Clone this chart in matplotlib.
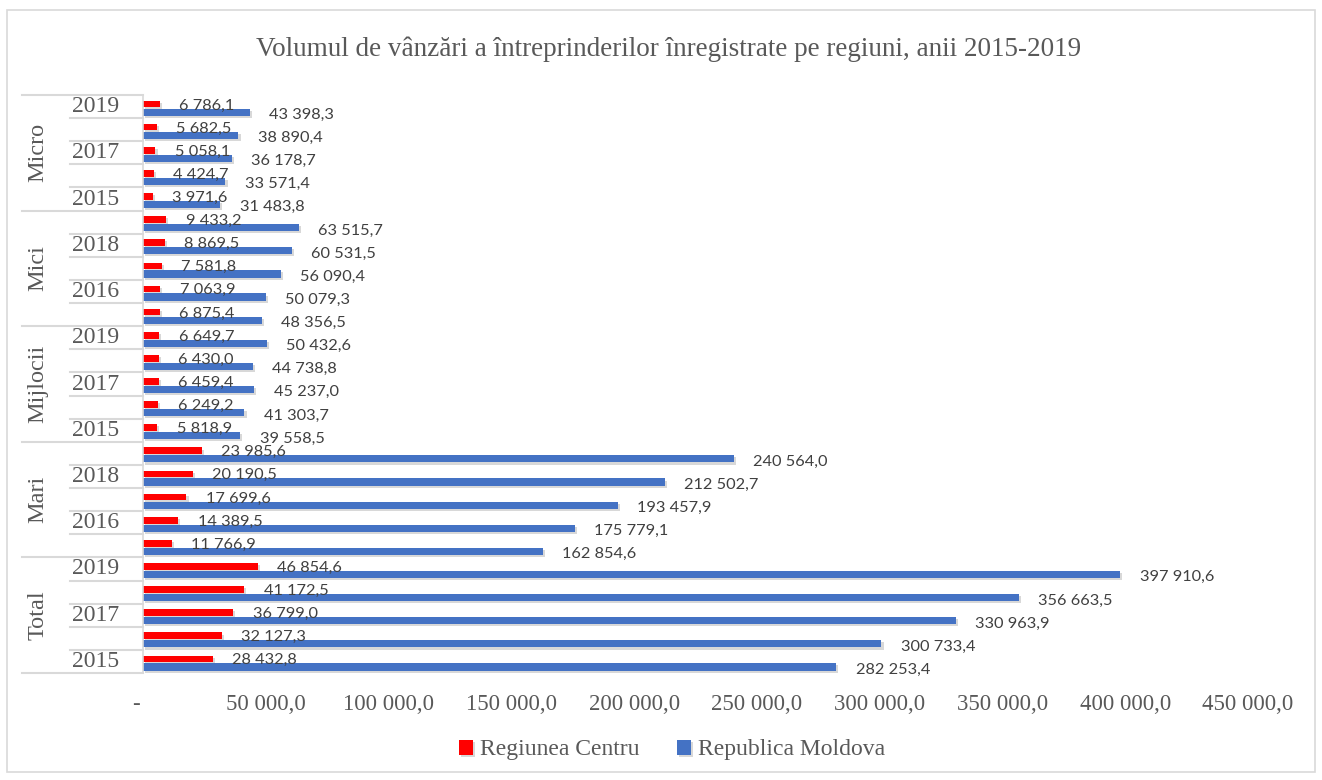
import matplotlib.pyplot as plt
import matplotlib.patheffects as pe
from matplotlib.patches import Rectangle

# Data (rows top -> bottom)
groups = ["Micro", "Mici", "Mijlocii", "Mari", "Total"]
years = ["2019", "2018", "2017", "2016", "2015"]

centru = [
    6786.1, 5682.5, 5058.1, 4424.7, 3971.6,          # Micro
    9433.2, 8869.5, 7581.8, 7063.9, 6875.4,          # Mici
    6649.7, 6430.0, 6459.4, 6249.2, 5818.9,          # Mijlocii
    23985.6, 20190.5, 17699.6, 14389.5, 11766.9,     # Mari
    46854.6, 41172.5, 36799.0, 32127.3, 28432.8,     # Total
]
moldova = [
    43398.3, 38890.4, 36178.7, 33571.4, 31483.8,
    63515.7, 60531.5, 56090.4, 50079.3, 48356.5,
    50432.6, 44738.8, 45237.0, 41303.7, 39558.5,
    240564.0, 212502.7, 193457.9, 175779.1, 162854.6,
    397910.6, 356663.5, 330963.9, 300733.4, 282253.4,
]
xticks = [0, 50000, 100000, 150000, 200000, 250000, 300000, 350000, 400000, 450000]


def fmt(v):
    return f"{v:,.1f}".replace(",", " ").replace(".", ",")


grey = "#595959"
serif = "Liberation Serif"
lbl_font = "Lato"

fig = plt.figure(figsize=(13.22, 7.8), dpi=100)
ax = fig.add_axes([143 / 1322, 1 - 673 / 780, 1105 / 1322, 578 / 780])

n = len(centru)
rows = list(range(n))
shadow = [pe.SimplePatchShadow(offset=(1.5, -1.5), alpha=0.3, shadow_rgbFace="#808080"), pe.Normal()]

bars_r = ax.barh([r - 0.11 for r in rows], centru, height=0.29, color="#FF0000",
                 label="Regiunea Centru")
bars_b = ax.barh([r + 0.24 for r in rows], moldova, height=0.31, color="#4472C4",
                 label="Republica Moldova")
for b in list(bars_r) + list(bars_b):
    b.set_path_effects(shadow)

for r in rows:
    ax.annotate(fmt(centru[r]), (centru[r], r - 0.11), xytext=(14, -1),
                textcoords="offset points", va="center", ha="left",
                fontsize=11.8, color="#404040", family=lbl_font)
    ax.annotate(fmt(moldova[r]), (moldova[r], r + 0.24), xytext=(14, -2),
                textcoords="offset points", va="center", ha="left",
                fontsize=11.8, color="#404040", family=lbl_font)

ax.set_xlim(0, 450000)
ax.set_ylim(n - 0.5, -0.5)
ax.set_xticks(xticks)
ax.set_xticklabels(["-  "] + [fmt(v) for v in xticks[1:]], family=serif,
                   fontsize=16.5, color=grey)
ax.tick_params(axis="x", length=0, pad=15)
ax.set_yticks([])
for s in ["top", "right", "bottom"]:
    ax.spines[s].set_visible(False)
ax.spines["left"].set_color("#D9D9D9")
ax.spines["left"].set_linewidth(1.2)

# multi-level category axis
trans = ax.get_yaxis_transform()
x_grp = (22 - 143) / 1105
x_yr = (70 - 143) / 1105
for r in range(n + 1):
    y = r - 0.5
    x0 = x_grp if r % 5 == 0 else x_yr
    ax.plot([x0, 0], [y, y], transform=trans, color="#D9D9D9", lw=1.5, clip_on=False)
for r in rows:
    if r % 2 == 0:
        ax.text((119 - 143) / 1105, r, years[r % 5], transform=trans, ha="right",
                va="center", family=serif, fontsize=17, color=grey)
for g, name in enumerate(groups):
    ax.text((38 - 143) / 1105, g * 5 + 2, name, transform=trans, ha="center",
            va="center", rotation=90, family=serif, fontsize=17.5, color=grey)

fig.text(669 / 1322, 1 - 49 / 780, "Volumul de vânzări a întreprinderilor înregistrate pe regiuni, anii 2015-2019",
         ha="center", va="center", family=serif, fontsize=19.5, color=grey)

leg = fig.legend(loc="center", bbox_to_anchor=(672 / 1322, 1 - 750 / 780), ncol=2, frameon=False,
                 prop={"family": serif, "size": 17}, handlelength=0.6, handleheight=0.6,
                 handletextpad=0.3, columnspacing=1.6)
for t in leg.get_texts():
    t.set_color(grey)

fig.patches.append(Rectangle((7 / 1322, 8 / 780), 1 - 14 / 1322, 1 - 18 / 780,
                             transform=fig.transFigure, fill=False, edgecolor="#D9D9D9", lw=1.2))

fig.savefig("out.png", dpi=100)
